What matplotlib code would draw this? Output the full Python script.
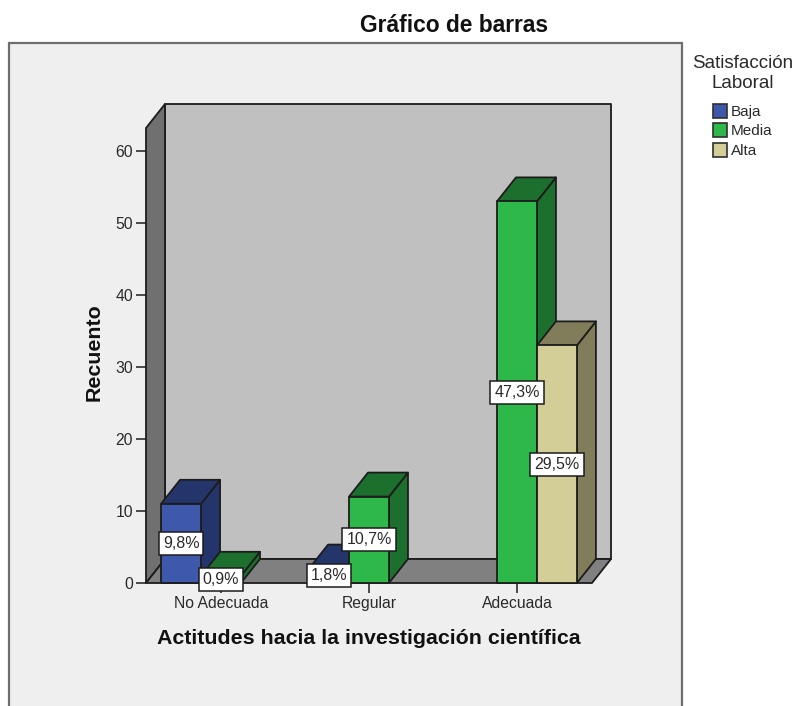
import matplotlib
matplotlib.use("Agg")
import matplotlib.pyplot as plt
from matplotlib.patches import Polygon, Rectangle, Patch

plt.rcParams['font.family'] = ['Liberation Sans', 'DejaVu Sans']

categories = ["No Adecuada", "Regular", "Adecuada"]
series_names = ["Baja", "Media", "Alta"]
baja = [11, 2, 0]
media = [1, 12, 53]
alta = [0, 0, 33]
pct_baja = ["9,8%", "1,8%", ""]
pct_media = ["0,9%", "10,7%", "47,3%"]
pct_alta = ["", "", "29,5%"]
yticks = [0, 10, 20, 30, 40, 50, 60]

front = ["#3E58AC", "#2EB84A", "#D3CE97"]
dark = ["#24356B", "#1C6F2D", "#817D5B"]
EDGE = "#1C1C1C"
TXT = "#2A2A2A"

W, H = 798, 706
fig = plt.figure(figsize=(W / 100, H / 100), dpi=100, facecolor="white")

# outer chart panel (its bottom runs off the picture)
fig.add_artist(Rectangle((9 / W, -0.05), 673 / W, 1 - 43 / H + 0.05,
                         transform=fig.transFigure, facecolor="#EFEFEF",
                         edgecolor="#6E6E6E", linewidth=1.6, zorder=-1))

ax = fig.add_axes([146 / W, 1 - 583 / H, 446 / W, 455 / H])
ax.patch.set_alpha(0)
ax.set_xlim(-0.507, 2.507)
ax.set_ylim(0, 455 / 7.2)
DX = 19 / 148
DY = 24 / 7.2
x0, x1 = ax.get_xlim()
y1 = ax.get_ylim()[1]


def poly(pts, fc, z):
    ax.add_patch(Polygon(pts, closed=True, facecolor=fc, edgecolor=EDGE,
                         linewidth=1.3, joinstyle="round", clip_on=False, zorder=z))


# walls and floor
poly([(x0 + DX, DY), (x1 + DX, DY), (x1 + DX, y1 + DY), (x0 + DX, y1 + DY)], "#C0C0C0", 1)
poly([(x0, 0), (x0 + DX, DY), (x0 + DX, y1 + DY), (x0, y1)], "#707070", 1)
poly([(x0, 0), (x1, 0), (x1 + DX, DY), (x0 + DX, DY)], "#808080", 1)

BAR = 0.27
series = [baja, media, alta]
labels = [pct_baja, pct_media, pct_alta]
for i in range(len(categories)):
    for j, vals in enumerate(series):
        v = vals[i]
        if v == 0:
            continue
        left = i + (j - 1.5) * BAR
        right = left + BAR
        z = 3 + i + j * 0.1
        poly([(right, 0), (right + DX, DY), (right + DX, v + DY), (right, v)], dark[j], z)
        poly([(left, v), (right, v), (right + DX, v + DY), (left + DX, v + DY)], dark[j], z)
        poly([(left, 0), (right, 0), (right, v), (left, v)], front[j], z)

for i in range(len(categories)):
    for j, vals in enumerate(series):
        if vals[i] == 0:
            continue
        left = i + (j - 1.5) * BAR
        ax.text(left + BAR / 2, vals[i] / 2, labels[j][i], ha="center", va="center",
                fontsize=11.5, color=TXT, zorder=20, clip_on=False,
                bbox=dict(boxstyle="square,pad=0.25", facecolor="white",
                          edgecolor=EDGE, linewidth=1.1))

for s in ax.spines.values():
    s.set_visible(False)
ax.set_xticks(range(len(categories)))
ax.set_xticklabels(categories)
ax.set_yticks(yticks)
ax.tick_params(axis="both", length=7.2, width=1.1, color=EDGE, labelcolor=TXT,
               labelsize=11.3, pad=2)
ax.tick_params(axis="x", pad=2.2)

ax.set_xlabel("Actitudes hacia la investigación científica", fontsize=15.4,
              fontweight="bold", color="#111111")
ax.xaxis.set_label_coords(0.5, -(639 - 583) / 455, transform=ax.transAxes)
ax.xaxis.label.set_va("center")
ax.set_ylabel("Recuento", fontsize=15.4, fontweight="bold", color="#111111")
ax.yaxis.set_label_coords((94 - 146) / 446, (583 - 352) / 455, transform=ax.transAxes)
ax.yaxis.label.set_va("center")

fig.text(454 / W, 1 - 26 / H, "Gráfico de barras", ha="center", va="center",
         fontsize=16.4, fontweight="bold", color="#111111")

handles = [Patch(facecolor=c, edgecolor="#303030", linewidth=1.2) for c in front]
leg = fig.legend(handles, series_names, title="Satisfacción\nLaboral", frameon=False,
                 loc="upper left", bbox_to_anchor=(692 / W, 1 - 55.5 / H),
                 bbox_transform=fig.transFigure, borderaxespad=0, borderpad=0,
                 fontsize=11, title_fontsize=13.5, handlelength=0.93, handleheight=1.0,
                 handletextpad=0.28, labelspacing=0.29, labelcolor=TXT)
leg.get_title().set_color(TXT)
leg.get_title().set_multialignment("center")
leg._legend_box.sep = 8.5

fig.savefig("out.png", dpi=100)
